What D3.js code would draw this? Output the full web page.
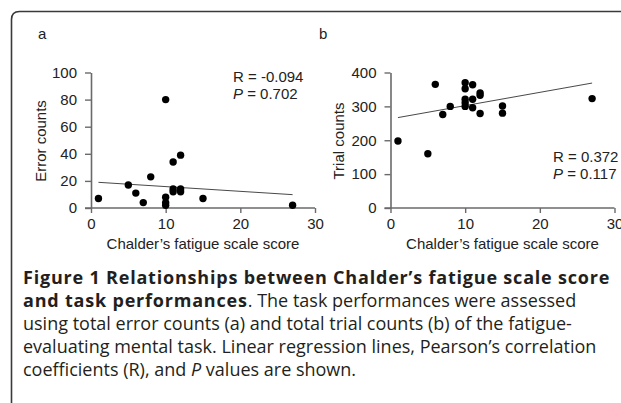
<!DOCTYPE html>
<html>
<head>
<meta charset="utf-8">
<script src="https://cdn.jsdelivr.net/npm/d3@7"></script>
<style>
  body { margin: 0; background: #fff; }
  svg { display: block; }
</style>
</head>
<body>
<script>
// panel a: Chalder's score vs error counts
var scoreA = [1, 5, 6, 7, 8, 10, 10, 10, 10, 11, 11, 11, 12, 12, 12, 15, 27];
var errorA = [7, 17, 11, 4, 23, 80, 8, 4, 2, 34, 14, 12, 39, 14, 12, 7, 2];
// panel b: Chalder's score vs trial counts
var scoreB = [1, 5, 6, 7, 8, 10, 10, 10, 10, 10, 11, 11, 11, 12, 12, 12, 15, 15, 27];
var trialB = [198, 160, 365, 276, 300, 370, 352, 321, 311, 300, 364, 321, 296, 340, 333, 279, 301, 280, 323];

// regression lines: [intercept, slope], drawn over x 1..27
var fitA = [19.3, -0.35];
var fitB = [263, 3.92];
var fitRange = [1, 27];

var xTicks = [0, 10, 20, 30];
var yTicksA = [0, 20, 40, 60, 80, 100];
var yTicksB = [0, 100, 200, 300, 400];

var statsA = ["R = -0.094", "0.702"];
var statsB = ["R = 0.372", "0.117"];

var W = 621, H = 403;
var ink = "#222";
var axisCol = "#6a6a6a";
var fs = 15;

var svg = d3.select("body").append("svg")
    .attr("width", W)
    .attr("height", H);

svg.append("rect").attr("width", W).attr("height", H).attr("fill", "#fff");

// frame: rounded top-left corner, top edge runs off to the right, left edge down
svg.append("path")
    .attr("d", "M11.5," + H + " L11.5,19.5 Q11.5,11.5 19.5,11.5 L" + W + ",11.5")
    .attr("fill", "none")
    .attr("stroke", "#3a3a3a")
    .attr("stroke-width", 1.6);

function drawPanel(opt) {
  var x = d3.scaleLinear().domain([0, 30]).range([opt.left, opt.left + 224]);
  var y = d3.scaleLinear().domain(opt.yDomain).range([208, 72.5]);

  var g = svg.append("g").style("font-family", "'Liberation Sans', Arial, sans-serif");

  // letter
  g.append("text").attr("x", opt.letterX).attr("y", 39)
      .attr("font-size", fs).attr("fill", ink).text(opt.letter);

  var yAxis = g.append("g")
      .attr("transform", "translate(" + opt.left + ",0)")
      .call(d3.axisLeft(y).tickValues(opt.yTicks).tickSize(6).tickSizeOuter(0).tickPadding(8));
  var xAxis = g.append("g")
      .attr("transform", "translate(0,208)")
      .call(d3.axisBottom(x).tickValues(xTicks).tickSize(5).tickSizeOuter(0).tickPadding(5));

  [yAxis, xAxis].forEach(function(a) {
    a.select(".domain").attr("stroke", axisCol).attr("stroke-width", 1.6);
    a.selectAll(".tick line").attr("stroke", axisCol).attr("stroke-width", 1.4);
    a.selectAll(".tick text").attr("fill", ink).attr("font-size", fs)
        .style("font-family", "'Liberation Sans', Arial, sans-serif");
  });
  // x axis line starts at the 0 tick of the y axis, like in Excel
  xAxis.select(".domain").attr("d", "M" + (opt.left - 6) + ",0H" + x(30));

  // axis titles
  g.append("text")
      .attr("transform", "translate(" + opt.titleX + ",141) rotate(-90)")
      .attr("text-anchor", "middle").attr("font-size", fs).attr("fill", ink)
      .text(opt.yTitle);
  g.append("text")
      .attr("x", x(15)).attr("y", 249)
      .attr("text-anchor", "middle").attr("font-size", fs).attr("fill", ink)
      .text("Chalder\u2019s fatigue scale score");

  // regression line
  g.append("line")
      .attr("x1", x(fitRange[0])).attr("y1", y(opt.fit[0] + opt.fit[1] * fitRange[0]))
      .attr("x2", x(fitRange[1])).attr("y2", y(opt.fit[0] + opt.fit[1] * fitRange[1]))
      .attr("stroke", "#333").attr("stroke-width", 0.9);

  // points
  g.selectAll("circle.pt")
      .data(opt.xs.map(function(v, i) { return [v, opt.ys[i]]; }))
      .enter().append("circle")
      .attr("class", "pt")
      .attr("cx", function(d) { return x(d[0]); })
      .attr("cy", function(d) { return y(d[1]); })
      .attr("r", 3.7)
      .attr("fill", "#000");

  // stats
  g.append("text").attr("x", opt.statX).attr("y", opt.statY)
      .attr("font-size", fs).attr("fill", ink).text(opt.stats[0]);
  var p = g.append("text").attr("x", opt.statX).attr("y", opt.statY + 17)
      .attr("font-size", fs).attr("fill", ink);
  p.append("tspan").attr("font-style", "italic").text("P");
  p.append("tspan").text(" = " + opt.stats[1]);
}

drawPanel({
  left: 91, yDomain: [0, 100], yTicks: yTicksA, letter: "a", letterX: 38,
  titleX: 46, yTitle: "Error counts", xs: scoreA, ys: errorA, fit: fitA,
  stats: statsA, statX: 233, statY: 82
});
drawPanel({
  left: 390.5, yDomain: [0, 400], yTicks: yTicksB, letter: "b", letterX: 319,
  titleX: 344, yTitle: "Trial counts", xs: scoreB, ys: trialB, fit: fitB,
  stats: statsB, statX: 553, statY: 162
});

// caption
var cap = svg.append("g")
    .style("font-family", "'Open Sans', 'Noto Sans', sans-serif")
    .attr("font-size", 18)
    .attr("fill", "#231f20");

var capLines = [
  [{t: "Figure 1 Relationships between Chalder\u2019s fatigue scale score", w: "bold"}],
  [{t: "and task performances", w: "bold"}, {t: ". The task performances were assessed"}],
  [{t: "using total error counts (a) and total trial counts (b) of the fatigue-"}],
  [{t: "evaluating mental task. Linear regression lines, Pearson\u2019s correlation"}],
  [{t: "coefficients (R), and "}, {t: "P", s: "italic"}, {t: " values are shown."}]
];

capLines.forEach(function(line, i) {
  var t = cap.append("text").attr("x", 23).attr("y", 284 + i * 23);
  line.forEach(function(seg) {
    t.append("tspan")
        .attr("font-weight", seg.w || "normal")
        .attr("font-style", seg.s || "normal")
        .attr("letter-spacing", seg.w ? 0.8 : 0)
        .text(seg.t);
  });
});
</script>
</body>
</html>
